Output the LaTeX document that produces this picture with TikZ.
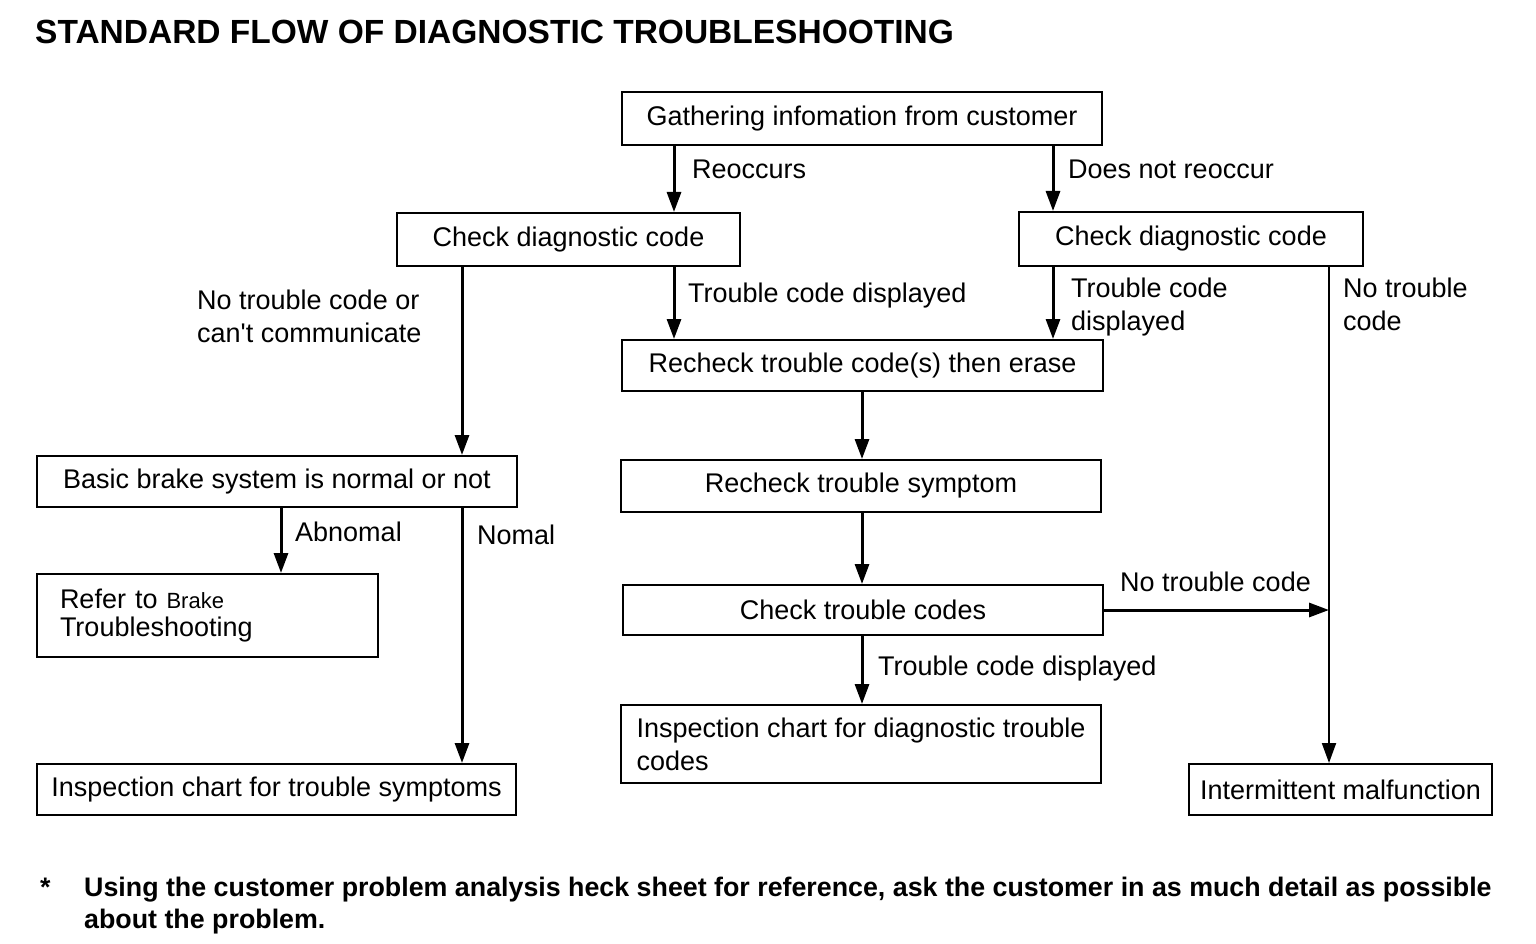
\documentclass[tikz,border=0pt]{standalone}
\usepackage{fontspec}
\setmainfont{Liberation Sans}
\usetikzlibrary{arrows.meta}

\begin{document}
\begin{tikzpicture}[x=1pt,y=-1pt,
    box/.style={draw,line width=2pt,inner sep=0pt,font=\fontsize{27}{33}\selectfont},
    lbl/.style={anchor=base west,inner sep=0pt,align=left,font=\fontsize{27}{33}\selectfont},
    arr/.style={line width=3pt,-{Triangle[length=20pt,width=14pt]}}]
                \useasboundingbox (0,0) rectangle (1536,944);
                \node[anchor=base west,inner sep=0pt,font=\bfseries\fontsize{33.5}{40}\selectfont] (title) at (35,44) {STANDARD FLOW OF DIAGNOSTIC TROUBLESHOOTING};
                \node[box,minimum width=480pt,minimum height=53pt] (gather) at (862,118.5) {Gathering infomation from customer};
                \node[box,minimum width=343pt,minimum height=53pt] (chkL) at (568.5,239.5) {Check diagnostic code};
                \node[box,minimum width=344pt,minimum height=54pt] (chkR) at (1191,239) {Check diagnostic code};
                \node[box,minimum width=481pt,minimum height=51pt] (erase) at (862.5,365.5) {Recheck trouble code(s) then erase};
                \node[box,minimum width=480pt,minimum height=52pt] (symptom) at (861,486) {Recheck trouble symptom};
                \node[box,minimum width=480pt,minimum height=50pt] (codes) at (863,610) {Check trouble codes};
                \node[box,minimum width=480pt,minimum height=78pt,align=left] (insdiag) at (861,744) {Inspection chart for diagnostic trouble\\codes};
                \node[box,minimum width=480pt,minimum height=51pt] (basic) at (277,481.5) {Basic brake system is normal or not};
                \node[box,minimum width=341pt,minimum height=83pt,text width=295pt,align=left,font=\fontsize{27}{28}\selectfont] (refer) at (207.5,615.5) {Refer to {\fontsize{22}{28}\selectfont Brake}\\Troubleshooting};
                \node[box,minimum width=479pt,minimum height=51pt] (inssym) at (276.5,789.5) {Inspection chart for trouble symptoms};
                \node[box,minimum width=303pt,minimum height=51pt] (inter) at (1340.5,789.5) {Intermittent malfunction};
                \coordinate (join) at (1329,610);
                \draw[arr] (674,0 |- gather.south) -- (674,0 |- chkL.north);
                \draw[arr] (1053,0 |- gather.south) -- (1053,0 |- chkR.north);
                \draw[arr] (674,0 |- chkL.south) -- (674,0 |- erase.north);
                \draw[arr] (462,0 |- chkL.south) -- (462,0 |- basic.north);
                \draw[arr] (1053,0 |- chkR.south) -- (1053,0 |- erase.north);
                \draw[arr,line width=2pt] (1329,0 |- chkR.south) -- (1329,0 |- inter.north);
                \draw[arr] (862,0 |- erase.south) -- (862,0 |- symptom.north);
                \draw[arr] (862,0 |- symptom.south) -- (862,0 |- codes.north);
                \draw[arr] (codes.east) -- (join);
                \draw[arr] (862,0 |- codes.south) -- (862,0 |- insdiag.north);
                \draw[arr] (281,0 |- basic.south) -- (281,0 |- refer.north);
                \draw[arr] (462,0 |- basic.south) -- (462,0 |- inssym.north);
                \node[lbl] (reocc) at (692,179) {Reoccurs};
                \node[lbl] (noreocc) at (1068,179) {Does not reoccur};
                \node[lbl] (nocomm) at (197,342) {No trouble code or\\can\textquotesingle t communicate};
                \node[lbl] (dispL) at (688,302) {Trouble code displayed};
                \node[lbl] (dispR) at (1071,330) {Trouble code\\displayed};
                \node[lbl] (nocodeR) at (1343,330) {No trouble\\code};
                \node[lbl] (nocodeM) at (1120,591) {No trouble code};
                \node[lbl] (dispM) at (878,675) {Trouble code displayed};
                \node[lbl] (abn) at (295,541) {Abnomal};
                \node[lbl] (nom) at (477,544) {Nomal};
                \node[anchor=base west,inner sep=0pt,font=\bfseries\fontsize{26.8}{32}\selectfont] (star) at (40,896) {*};
                \node[anchor=base west,inner sep=0pt,align=left,font=\bfseries\fontsize{26.8}{32}\selectfont] (note) at (84,928) {Using the customer problem analysis heck sheet for reference, ask the customer in as much detail as possible\\about the problem.};
            \end{tikzpicture}
\end{document}
